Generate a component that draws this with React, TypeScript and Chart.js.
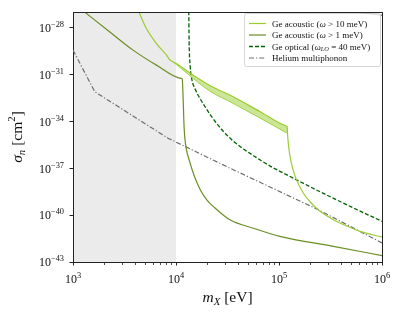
import { useEffect, useRef } from 'react';
import { Chart, registerables } from 'chart.js';

Chart.register(...registerables);

// ---------- axes ----------
const xRange = [1e3, 1e6];
const yRange = [1e-43, 1e-27];
const xMajorTicks = [1e3, 1e4, 1e5, 1e6];
const xTickLabels = ['$10^{3}$', '$10^{4}$', '$10^{5}$', '$10^{6}$'];
const xMinorFactors = [2, 3, 4, 5, 6, 7, 8, 9];
const yMajorTicks = [1e-28, 1e-31, 1e-34, 1e-37, 1e-40, 1e-43];
const yTickLabels = ['$10^{-28}$', '$10^{-31}$', '$10^{-34}$', '$10^{-37}$', '$10^{-40}$', '$10^{-43}$'];
const xAxisTitle = '$m_{X}$ [eV]';
const yAxisTitle = '$σ_{n}$ [cm$^{2}$]';
const shadedRegion = [1e3, 1e4];

// ---------- legend ----------
const legendLabels = [
  'Ge acoustic ($ω > 10$ meV)',
  'Ge acoustic ($ω > 1$ meV)',
  'Ge optical ($ω_{LO} = 40$ meV)',
  'Helium multiphonon',
];

// ---------- series ----------
// Ge acoustic (omega > 10 meV): main line (band upper edge, drop and tail)
const geAc10Mass = [4.24e3, 5.16e3, 6.46e3, 8.09e3, 8.71e3, 1.01e4, 1.47e4, 2.13e4, 3.59e4, 6.52e4, 1.19e5, 1.2e5, 1.21e5, 1.23e5, 1.26e5, 1.32e5, 1.37e5, 1.48e5, 1.72e5, 2.0e5, 2.4e5, 3.37e5, 4.21e5, 6.11e5, 1.0e6];
const geAc10Sigma = [1.58e-27, 8.7e-29, 9.5e-30, 1.74e-30, 8.7e-31, 5.1e-31, 9.1e-32, 1.95e-32, 3.8e-33, 4.3e-34, 4.9e-35, 4.6e-35, 1.6e-35, 4.2e-36, 1.1e-36, 2.1e-37, 7.9e-38, 1.8e-38, 2.6e-39, 7.2e-40, 2.2e-40, 5.1e-41, 2.5e-41, 9.1e-42, 4.0e-42];
// band lower edge
const geAc10BandMass = [8.71e3, 1.01e4, 1.47e4, 2.13e4, 3.59e4, 6.52e4, 1.2e5];
const geAc10BandLow = [8.7e-31, 4.3e-31, 5.5e-32, 8.7e-33, 1.41e-33, 1.66e-34, 1.74e-35];

// Ge acoustic (omega > 1 meV)
const geAc1Mass = [1.24e3, 2.28e3, 3.83e3, 6.46e3, 1.12e4, 1.15e4, 1.17e4, 1.2e4, 1.26e4, 1.36e4, 1.49e4, 1.7e4, 1.99e4, 2.38e4, 3.33e4, 5.83e4, 1.02e5, 3.37e5, 1.0e6];
const geAc1Sigma = [1.26e-27, 5.25e-29, 3.63e-30, 3.98e-31, 5.66e-32, 5.13e-32, 4.79e-33, 3.63e-35, 1.74e-36, 2.57e-37, 3.8e-38, 4.9e-39, 9.55e-40, 2.95e-40, 5.01e-41, 1.35e-41, 4.37e-42, 1.0e-42, 2.57e-43];

// Ge optical (omega_LO = 40 meV)
const geOptMass = [1.329e4, 1.34e4, 1.371e4, 1.43e4, 1.52e4, 1.7e4, 2.92e4, 6.52e4, 1.48e5, 3.91e5, 1.0e6];
const geOptSigma = [2.7e-27, 1.55e-29, 3.98e-31, 4.37e-32, 1.35e-32, 3.09e-33, 2.09e-35, 3.47e-37, 1.82e-38, 7.41e-40, 3.98e-41];

// Helium multiphonon
const heMass = [1.0e3, 1.63e3, 8.38e3, 3.33e4, 2.4e5, 1.0e6];
const heSigma = [3.63e-30, 7.76e-33, 8.32e-36, 1.02e-37, 2.24e-40, 1.66e-42];

// faint unlabeled curve at the top right
const faintMass = [3.98e5, 1.0e6];
const faintSigma = [1.23e-27, 6.2e-28];

const FONT = "'Liberation Serif', 'DejaVu Serif', serif";

const pts = (xs: number[], ys: number[]) => xs.map((x, i) => ({ x, y: ys[i] }));

type Run = { text: string; italic: boolean; scale: number; shift: number };

function mathChar(ch: string, scale: number, shift: number): Run {
  const isLetter = /[A-Za-z\u03b1-\u03c9\u0391-\u03a9]/.test(ch);
  return { text: ch === '-' ? '\u2212' : ch, italic: isLetter, scale, shift };
}

function parseRich(s: string): Run[] {
  const runs: Run[] = [];
  s.split('$').forEach((part, i) => {
    if (i % 2 === 0) {
      if (part) runs.push({ text: part, italic: false, scale: 1, shift: 0 });
      return;
    }
    let j = 0;
    while (j < part.length) {
      const c = part[j];
      if ((c === '_' || c === '^') && part[j + 1] === '{') {
        const end = part.indexOf('}', j);
        const inner = part.slice(j + 2, end);
        for (const ch of inner) runs.push(mathChar(ch, 0.7, c === '_' ? 0.22 : -0.42));
        j = end + 1;
      } else {
        runs.push(mathChar(c, 1, 0));
        j++;
      }
    }
  });
  return runs;
}

function drawRich(ctx: CanvasRenderingContext2D, s: string, x: number, y: number, size: number, align: 'left' | 'center' | 'right') {
  const runs = parseRich(s);
  const fontFor = (r: Run) => `${r.italic ? 'italic ' : ''}${(size * r.scale).toFixed(2)}px ${FONT}`;
  let total = 0;
  const widths = runs.map((r) => {
    ctx.font = fontFor(r);
    const w = ctx.measureText(r.text).width;
    total += w;
    return w;
  });
  let cx = align === 'left' ? x : align === 'center' ? x - total / 2 : x - total;
  ctx.textBaseline = 'alphabetic';
  ctx.textAlign = 'left';
  runs.forEach((r, i) => {
    ctx.font = fontFor(r);
    ctx.fillText(r.text, cx, y + r.shift * size);
    cx += widths[i];
  });
}

const decorPlugin = {
  id: 'decor',
  beforeDraw(chart: any) {
    const { ctx, chartArea: a, scales } = chart;
    const x0 = scales.x.getPixelForValue(shadedRegion[0]);
    const x1 = scales.x.getPixelForValue(shadedRegion[1]);
    ctx.save();
    ctx.fillStyle = '#ebebeb';
    ctx.fillRect(x0, a.top, x1 - x0, a.bottom - a.top);
    ctx.restore();
  },
  afterDraw(chart: any) {
    const { ctx, chartArea: a, scales } = chart;
    const xs = scales.x;
    const ys = scales.y;
    ctx.save();
    // top and right spines
    ctx.strokeStyle = '#222';
    ctx.lineWidth = 1;
    ctx.beginPath();
    ctx.moveTo(a.left, a.top + 0.5);
    ctx.lineTo(a.right + 1, a.top + 0.5);
    ctx.moveTo(a.right + 0.5, a.top);
    ctx.lineTo(a.right + 0.5, a.bottom + 1);
    ctx.stroke();
    // minor x ticks
    ctx.lineWidth = 0.8;
    ctx.beginPath();
    for (let d = 0; d < xMajorTicks.length - 1; d++) {
      for (const f of xMinorFactors) {
        const px = Math.round(xs.getPixelForValue(xMajorTicks[d] * f)) + 0.5;
        ctx.moveTo(px, a.bottom + 1);
        ctx.lineTo(px, a.bottom + 3);
      }
    }
    ctx.stroke();
    // tick labels
    ctx.fillStyle = '#111';
    xs.ticks.forEach((t: any, i: number) => {
      drawRich(ctx, xTickLabels[i], xs.getPixelForValue(t.value), a.bottom + 21, 12, 'center');
    });
    ys.ticks.forEach((t: any, i: number) => {
      drawRich(ctx, yTickLabels[i], a.left - 9, ys.getPixelForValue(t.value) + 4.3, 12, 'right');
    });
    // axis titles
    drawRich(ctx, xAxisTitle, (a.left + a.right) / 2, a.bottom + 40, 15.5, 'center');
    ctx.save();
    ctx.translate(22, (a.top + a.bottom) / 2);
    ctx.rotate(-Math.PI / 2);
    drawRich(ctx, yAxisTitle, 0, 0, 15.5, 'center');
    ctx.restore();

    // legend
    const boxW = 136;
    const boxH = 53;
    const bx = a.right - 2 - boxW;
    const by = a.top + 1;
    ctx.beginPath();
    ctx.roundRect(bx + 0.5, by + 0.5, boxW, boxH, 2);
    ctx.fillStyle = 'rgba(255,255,255,0.8)';
    ctx.fill();
    ctx.strokeStyle = '#cccccc';
    ctx.lineWidth = 0.8;
    ctx.stroke();
    const legendDatasets = [0, 2, 3, 4];
    legendLabels.forEach((label, i) => {
      const ds = chart.data.datasets[legendDatasets[i]];
      const ry = by + 10.5 + i * 11.5;
      ctx.save();
      ctx.strokeStyle = ds.borderColor;
      ctx.lineWidth = ds.borderWidth;
      ctx.setLineDash(ds.borderDash || []);
      ctx.beginPath();
      ctx.moveTo(bx + 5, ry);
      ctx.lineTo(bx + 22, ry);
      ctx.stroke();
      ctx.restore();
      ctx.fillStyle = '#111';
      drawRich(ctx, label, bx + 28, ry + 3, 9, 'left');
    });
    ctx.restore();
  },
};

export default function App() {
  const ref = useRef<HTMLCanvasElement | null>(null);
  useEffect(() => {
    if (!ref.current) return;
    const lineBase = {
      pointRadius: 0,
      pointHoverRadius: 0,
      cubicInterpolationMode: 'monotone' as const,
      borderJoinStyle: 'round' as const,
      fill: false,
    };
    const chart = new Chart(ref.current, {
      type: 'line',
      data: {
        datasets: [
          { ...lineBase, label: legendLabels[0], data: pts(geAc10Mass, geAc10Sigma), borderColor: '#9acd32', borderWidth: 1.2 },
          {
            ...lineBase,
            label: 'band',
            data: pts(geAc10BandMass, geAc10BandLow),
            borderColor: '#9acd32',
            borderWidth: 0.9,
            fill: { target: 0 },
            backgroundColor: 'rgba(154,205,50,0.5)',
          },
          { ...lineBase, label: legendLabels[1], data: pts(geAc1Mass, geAc1Sigma), borderColor: '#6b8e23', borderWidth: 1.2 },
          { ...lineBase, label: legendLabels[2], data: pts(geOptMass, geOptSigma), borderColor: '#006400', borderWidth: 1.3, borderDash: [4, 2] },
          {
            ...lineBase,
            cubicInterpolationMode: 'default' as const,
            tension: 0,
            label: legendLabels[3],
            data: pts(heMass, heSigma),
            borderColor: '#6e6e6e',
            borderWidth: 1.2,
            borderDash: [5, 2, 1.2, 2],
          },
          { ...lineBase, label: 'faint', data: pts(faintMass, faintSigma), borderColor: '#555555', borderWidth: 1 },
        ],
      },
      options: {
        animation: false,
        responsive: false,
        events: [],
        layout: { padding: { top: 12, right: 17, left: 0, bottom: 0 } },
        plugins: { legend: { display: false }, tooltip: { enabled: false }, title: { display: false } },
        scales: {
          x: {
            type: 'logarithmic',
            min: xRange[0],
            max: xRange[1],
            afterBuildTicks: (s: any) => {
              s.ticks = xMajorTicks.map((v) => ({ value: v }));
            },
            afterFit: (s: any) => {
              s.height = 53;
            },
            ticks: { display: false },
            grid: { display: true, drawOnChartArea: false, drawTicks: true, tickLength: 3.5, color: '#222', lineWidth: 1 },
            border: { display: true, color: '#222', width: 1 },
          },
          y: {
            type: 'logarithmic',
            min: yRange[0],
            max: yRange[1],
            afterBuildTicks: (s: any) => {
              s.ticks = yMajorTicks.map((v) => ({ value: v }));
            },
            afterFit: (s: any) => {
              s.width = 73;
            },
            ticks: { display: false },
            grid: { display: true, drawOnChartArea: false, drawTicks: true, tickLength: 3.5, color: '#222', lineWidth: 1 },
            border: { display: true, color: '#222', width: 1 },
          },
        },
      },
      plugins: [decorPlugin],
    });
    return () => chart.destroy();
  }, []);
  return (
    <div style={{ position: 'absolute', left: 0, top: 0, width: 399, height: 315, background: '#fff' }}>
      <canvas ref={ref} width={399} height={315} style={{ display: 'block' }} />
    </div>
  );
}
